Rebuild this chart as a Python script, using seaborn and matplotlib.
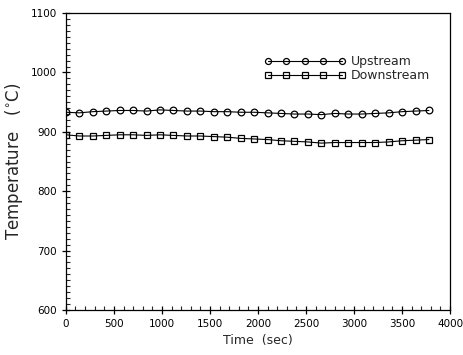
import matplotlib
matplotlib.use('Agg')
import matplotlib.pyplot as plt
import seaborn as sns
import pandas as pd
from matplotlib.ticker import MultipleLocator

time_sec = [0, 140, 280, 420, 560, 700, 840, 980, 1120, 1260, 1400, 1540, 1680, 1820,
            1960, 2100, 2240, 2380, 2520, 2660, 2800, 2940, 3080, 3220, 3360, 3500, 3640, 3780]
upstream = [933, 932, 934, 935, 936, 936, 935, 937, 936, 935, 935, 934, 934, 933,
            933, 932, 931, 930, 930, 929, 931, 930, 930, 931, 932, 934, 935, 936]
downstream = [895, 893, 893, 894, 895, 895, 894, 895, 894, 893, 893, 892, 891, 889,
              888, 887, 885, 884, 883, 881, 882, 882, 882, 882, 883, 885, 886, 887]

df = pd.DataFrame({'time': time_sec, 'Upstream': upstream, 'Downstream': downstream})

sns.set_style('ticks')
plt.rcParams['font.family'] = ['DejaVu Sans']

fig = plt.figure(figsize=(4.64, 3.55), dpi=100)
ax = fig.add_axes([0.142, 0.127, 0.828, 0.836])

sns.lineplot(data=df, x='time', y='Upstream', ax=ax, color='black', lw=0.8,
             marker='o', markersize=4.8, markerfacecolor='none', markeredgecolor='black',
             markeredgewidth=0.9, label='Upstream')
sns.lineplot(data=df, x='time', y='Downstream', ax=ax, color='black', lw=0.8,
             marker='s', markersize=4.3, markerfacecolor='none', markeredgecolor='black',
             markeredgewidth=0.9, label='Downstream')

ax.set_xlim(0, 4000)
ax.set_ylim(600, 1100)
ax.xaxis.set_major_locator(MultipleLocator(500))
ax.xaxis.set_minor_locator(MultipleLocator(100))
ax.yaxis.set_major_locator(MultipleLocator(100))
ax.yaxis.set_minor_locator(MultipleLocator(10))
ax.tick_params(which='major', direction='inout', length=6, width=0.9, labelsize=7.5, colors='black')
ax.tick_params(which='minor', direction='in', length=3, width=0.8)
for s in ax.spines.values():
    s.set_linewidth(0.9)
    s.set_color('black')

ax.set_xlabel('Time  (sec)', fontsize=9)
ax.set_ylabel('Temperature   ($^{\\circ}$C)', fontsize=12, labelpad=4)

ax.legend(loc='upper left', bbox_to_anchor=(0.5, 0.88), frameon=False, numpoints=5,
          handlelength=6.5, markerscale=0.9, fontsize=9, borderpad=0, labelspacing=0.1,
          handletextpad=0.4)

plt.savefig('out.png', dpi=100)
